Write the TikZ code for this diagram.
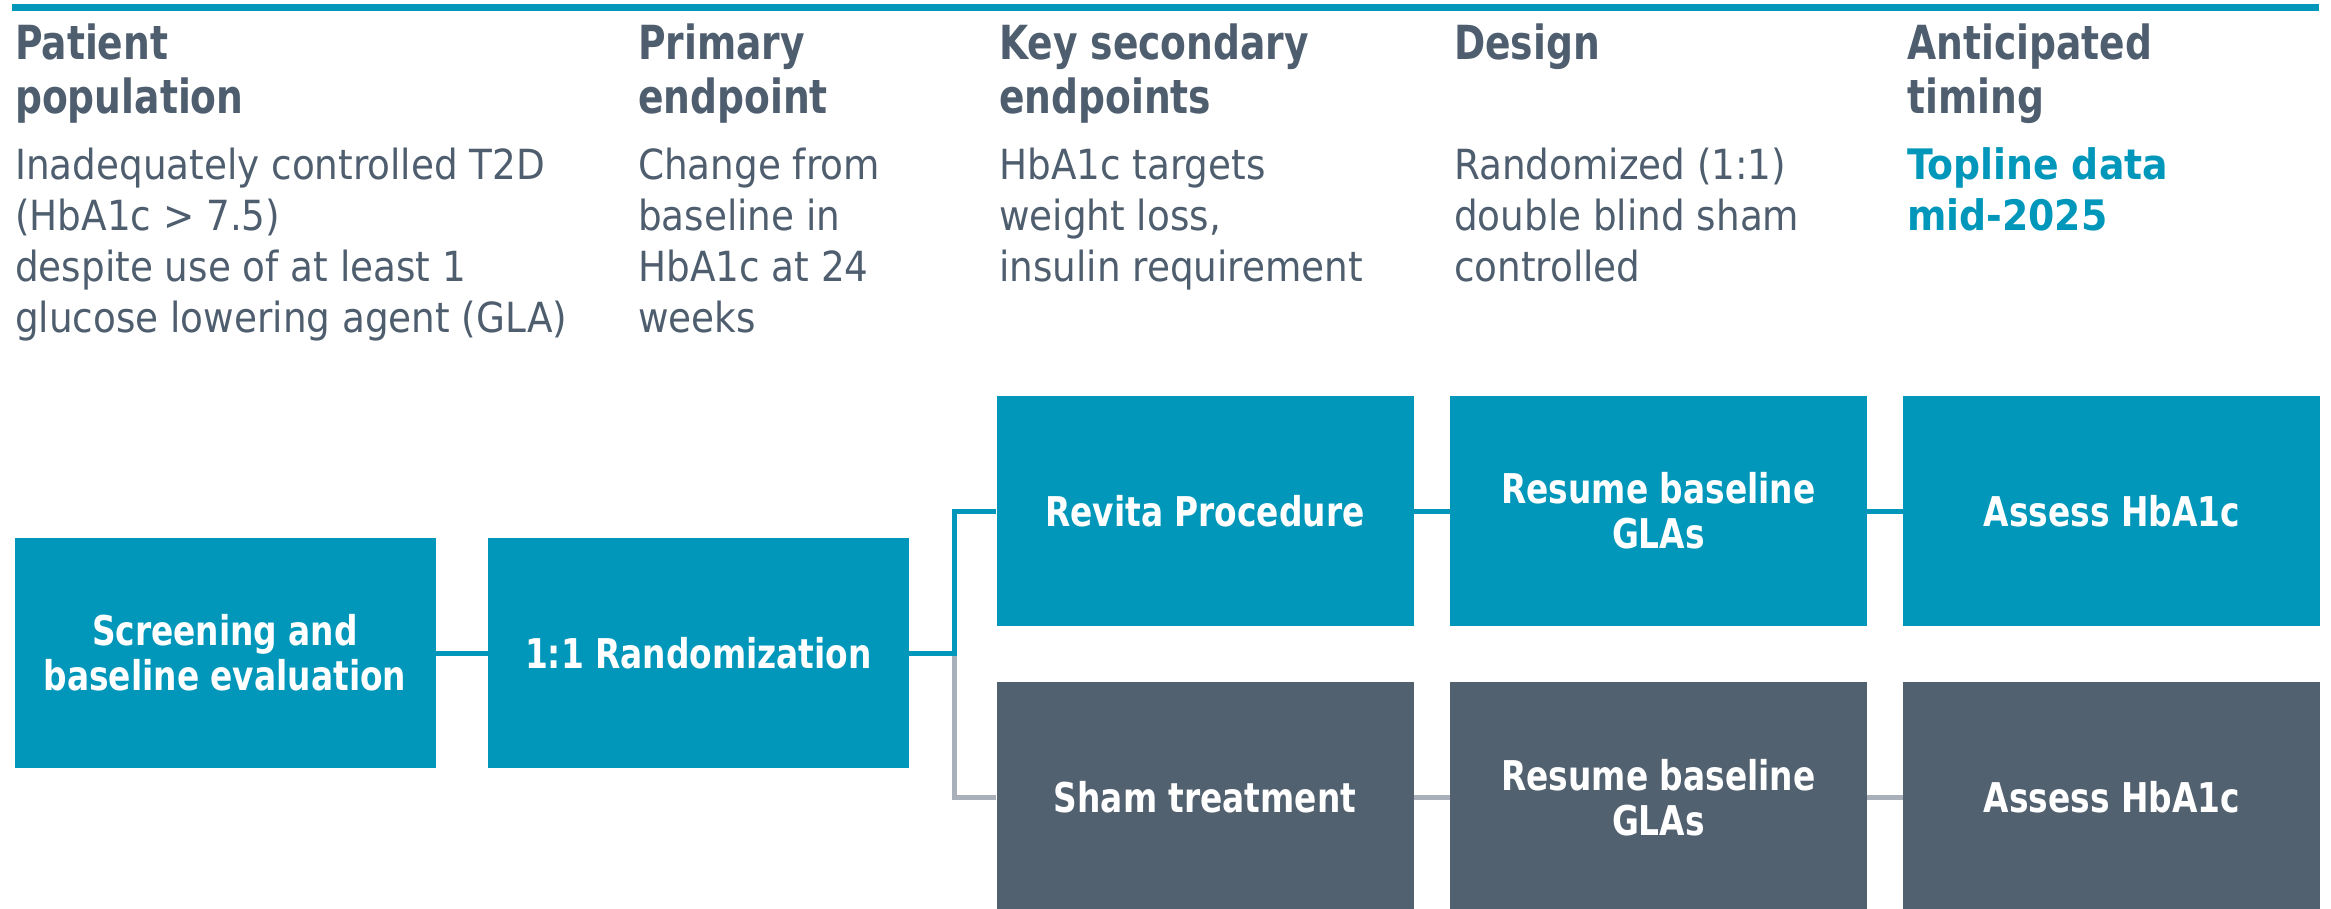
\documentclass[tikz,border=0pt]{standalone}
\usepackage{fontspec}
\setmainfont{DejaVu Sans Condensed}
\newfontfamily\narrowsans[FakeStretch=0.89]{DejaVu Sans Condensed}
\usetikzlibrary{positioning}

\definecolor{revitablue}{HTML}{0097BA}
\definecolor{slate}{HTML}{526170}
\definecolor{textgray}{HTML}{4E5E6E}
\definecolor{linegray}{HTML}{A9B0B9}

\tikzstyle{block} = [rectangle, fill=revitablue, text=white, align=center,
minimum width=417pt, minimum height=230pt, inner sep=0pt,
font=\narrowsans\bfseries\fontsize{41}{45}\selectfont]
\tikzstyle{shamblock} = [block, fill=slate]
\tikzstyle{line} = [draw, revitablue, line width=5pt]
\tikzstyle{shamline} = [draw, linegray, line width=5pt]
% base anchor of a multi-line node sits on its last line
\tikzstyle{head} = [anchor=base west, inner sep=0pt, align=left, text=textgray,
font=\narrowsans\bfseries\fontsize{47}{54}\selectfont]
\tikzstyle{body} = [anchor=base west, inner sep=0pt, align=left, text=textgray,
font=\fontsize{41.5}{51}\selectfont]

\begin{document}
\begin{tikzpicture}[x=1pt, y=-1pt, node distance = 36pt]
		\useasboundingbox (0,0) rectangle (2331,908);
		\fill [revitablue] (12,4) rectangle (2319,11);

		\node [head] (PopHead) at (15,113) {Patient\\population};
		\node [head] (PrimHead) at (638,113) {Primary\\endpoint};
		\node [head] (SecHead) at (999,113) {Key secondary\\endpoints};
		\node [head] (DesignHead) at (1454,59) {Design};
		\node [head] (TimeHead) at (1907,113) {Anticipated\\timing};

		\node [body] (PopText) at (15,332) {Inadequately controlled T2D\\(HbA1c > 7.5)\\despite use of at least 1\\glucose lowering agent (GLA)};
		\node [body] (PrimText) at (638,332) {Change from\\baseline in\\HbA1c at 24\\weeks};
		\node [body] (SecText) at (999,281) {HbA1c targets\\weight loss,\\insulin requirement};
		\node [body] (DesignText) at (1454,281) {Randomized (1:1)\\double blind sham\\controlled};
		\node [body, text=revitablue, font=\bfseries\fontsize{42}{51}\selectfont] (TimeText) at (1907,230) {Topline data\\mid-2025};

		\node [block, minimum width=421pt] (Screening) at (225,653) {Screening and\\baseline evaluation};
		\node [block, minimum width=421pt, right=52pt of Screening] (Randomization) {1:1 Randomization};

		\node [block] (Revita) at (1205,511) {Revita Procedure};
		\node [block, right=36pt of Revita] (ResumeA) {Resume baseline\\GLAs};
		\node [block, right=36pt of ResumeA] (AssessA) {Assess HbA1c};

		\node [shamblock, below=56pt of Revita] (Sham) {Sham treatment};
		\node [shamblock, right=36pt of Sham] (ResumeB) {Resume baseline\\GLAs};
		\node [shamblock, right=36pt of ResumeB] (AssessB) {Assess HbA1c};

		\path [line] (Screening) -- (Randomization);
		\path [shamline] (Randomization.east) --++ (45,0) |- (Sham.west);
		\path [line] (Randomization.east) --++ (45,0) |- (Revita.west);
		\path [line] (Revita) -- (ResumeA);
		\path [line] (ResumeA) -- (AssessA);
		\path [shamline] (Sham) -- (ResumeB);
		\path [shamline] (ResumeB) -- (AssessB);
	\end{tikzpicture}
\end{document}
